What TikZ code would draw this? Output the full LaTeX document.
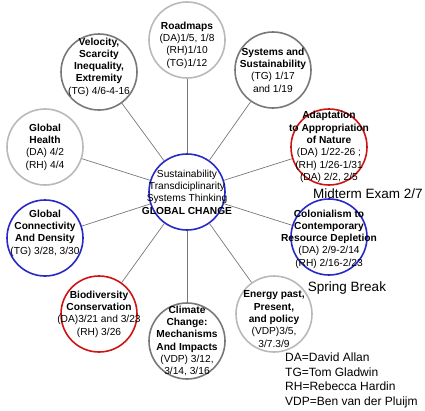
\documentclass[tikz,border=0pt]{standalone}
\usepackage{fontspec}
\setmainfont{Liberation Sans}
\usepackage{tikz}

\definecolor{ringlight}{RGB}{185,185,185}
\definecolor{ringdark}{RGB}{120,120,120}
\definecolor{ringblue}{RGB}{40,40,200}
\definecolor{ringred}{RGB}{205,20,20}

\begin{document}
\begin{tikzpicture}[x=1pt, y=-1pt]
    \tikzstyle{light ring}=[
        draw = ringlight,
        line width = 1.6pt,
        minimum size = 76pt,
        inner sep = 0pt,
        circle
    ]
    \tikzstyle{dark ring}=[light ring, draw = ringdark]
    \tikzstyle{blue ring}=[light ring, draw = ringblue]
    \tikzstyle{red ring}=[light ring, draw = ringred]
    \tikzstyle{topic text}=[
        align = center,
        inner sep = 0pt,
        font = \fontsize{10.2}{12.3}\selectfont
    ]
    \tikzstyle{note}=[
        inner sep = 0pt,
        font = \fontsize{13.5}{15}\selectfont
    ]

    \useasboundingbox (0,0) rectangle (425,410);

	\node[blue ring]  (core)   at (187, 192) {};
	\node[light ring] (road)   at (187, 40)  {};
	\node[dark ring]  (veloc)  at (99, 72)   {};
	\node[dark ring]  (sys)    at (273, 70)  {};
	\node[light ring] (health) at (45, 147)  {};
	\node[red ring]   (adapt)  at (329, 147) {};
	\node[blue ring]  (connect) at (45, 238) {};
	\node[blue ring]  (colon)  at (329, 237) {};
	\node[red ring]   (bio)    at (99, 314)  {};
	\node[dark ring]  (climate) at (187, 341) {};
	\node[light ring] (energy) at (274, 314) {};

	\path[-, draw=ringdark, line width=0.7pt] (core) edge (road);
	\path[-, draw=ringdark, line width=0.7pt] (core) edge (veloc);
	\path[-, draw=ringdark, line width=0.7pt] (core) edge (sys);
	\path[-, draw=ringdark, line width=0.7pt] (core) edge (health);
	\path[-, draw=ringdark, line width=0.7pt] (core) edge (adapt);
	\path[-, draw=ringdark, line width=0.7pt] (core) edge (connect);
	\path[-, draw=ringdark, line width=0.7pt] (core) edge (colon);
	\path[-, draw=ringdark, line width=0.7pt] (core) edge (bio);
	\path[-, draw=ringdark, line width=0.7pt] (core) edge (climate);
	\path[-, draw=ringdark, line width=0.7pt] (core) edge (energy);

	\node[topic text] (core-t) at (core) {Sustainability\\Transdiciplinarity\\Systems Thinking\\\textbf{GLOBAL CHANGE}};
	\node[topic text, yshift=-5pt] (road-t) at (road) {\textbf{Roadmaps}\\(DA)1/5, 1/8\\(RH)1/10\\(TG)1/12};
	\node[topic text, yshift=5pt] (veloc-t) at (veloc) {\textbf{Velocity,}\\\textbf{Scarcity}\\\textbf{Inequality,}\\\textbf{Extremity}\\(TG) 4/6-4-16};
	\node[topic text] (sys-t) at (sys) {\textbf{Systems and}\\\textbf{Sustainability}\\(TG) 1/17\\ and 1/19};
	\node[topic text] (health-t) at (health) {\textbf{Global}\\\textbf{Health}\\(DA) 4/2\\(RH) 4/4};
	\node[topic text] (adapt-t) at (adapt) {\textbf{Adaptation}\\\textbf{to Appropriation}\\\textbf{of Nature}\\(DA) 1/22-26 ;\\(RH) 1/26-1/31\\(DA) 2/2, 2/5};
	\node[topic text, yshift=5pt] (connect-t) at (connect) {\textbf{Global}\\\textbf{Connectivity}\\\textbf{And Density}\\(TG) 3/28, 3/30};
	\node[topic text, yshift=-2pt] (colon-t) at (colon) {\textbf{Colonialism to}\\\textbf{Contemporary}\\\textbf{Resource Depletion}\\(DA) 2/9-2/14\\(RH) 2/16-2/23};
	\node[topic text] (bio-t) at (bio) {\textbf{Biodiversity}\\\textbf{Conservation}\\(DA)3/21 and 3/23\\(RH) 3/26};
	\node[topic text] (climate-t) at (climate) {\textbf{Climate}\\\textbf{Change:}\\\textbf{Mechanisms}\\\textbf{And Impacts}\\(VDP) 3/12,\\3/14, 3/16};
	\node[topic text, yshift=-5pt] (energy-t) at (energy) {\textbf{Energy past,}\\\textbf{Present,}\\\textbf{and policy}\\(VDP)3/5,\\3/7.3/9};

	\node[note] (midterm) at (368, 194) {Midterm Exam 2/7};
	\node[note] (spring)  at (347, 288) {Spring Break};
	\node[note, anchor=north west, align=left, font=\fontsize{12}{14.5}\selectfont] (legend) at (285, 353)
		{DA=David Allan\\TG=Tom Gladwin\\RH=Rebecca Hardin\\VDP=Ben van der Pluijm};

\end{tikzpicture}
\end{document}
